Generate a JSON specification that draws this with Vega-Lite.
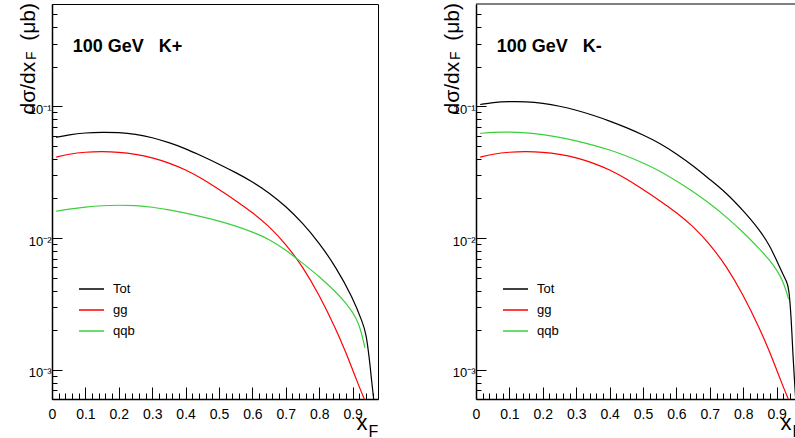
{
  "$schema": "https://vega.github.io/schema/vega-lite/v6.json",
  "padding": {"left": 16, "top": 2, "right": 0, "bottom": 0},
  "autosize": {"type": "pad"},
  "bounds": "flush",
  "spacing": 98,
  "config": {
    "font": "Liberation Sans",
    "view": {"stroke": "black", "strokeWidth": 1},
    "axis": {"grid": false, "labelColor": "black", "titleColor": "black", "tickColor": "black", "domainColor": "black", "titleFontWeight": "normal", "labelFont": "Liberation Sans", "titleFont": "Liberation Sans"}
  },
  "resolve": {"legend": {"color": "independent"}},
  "data": {"values": [
    {"panel": "K+", "series": "Tot", "xF": 0.0125, "dsigma": 0.0582},
    {"panel": "K+", "series": "Tot", "xF": 0.05, "dsigma": 0.0610},
    {"panel": "K+", "series": "Tot", "xF": 0.1, "dsigma": 0.0631},
    {"panel": "K+", "series": "Tot", "xF": 0.15, "dsigma": 0.0638},
    {"panel": "K+", "series": "Tot", "xF": 0.2, "dsigma": 0.0634},
    {"panel": "K+", "series": "Tot", "xF": 0.25, "dsigma": 0.0617},
    {"panel": "K+", "series": "Tot", "xF": 0.3, "dsigma": 0.0582},
    {"panel": "K+", "series": "Tot", "xF": 0.35, "dsigma": 0.0532},
    {"panel": "K+", "series": "Tot", "xF": 0.4, "dsigma": 0.0479},
    {"panel": "K+", "series": "Tot", "xF": 0.45, "dsigma": 0.0419},
    {"panel": "K+", "series": "Tot", "xF": 0.5, "dsigma": 0.0365},
    {"panel": "K+", "series": "Tot", "xF": 0.55, "dsigma": 0.0315},
    {"panel": "K+", "series": "Tot", "xF": 0.6, "dsigma": 0.0268},
    {"panel": "K+", "series": "Tot", "xF": 0.65, "dsigma": 0.0221},
    {"panel": "K+", "series": "Tot", "xF": 0.7, "dsigma": 0.01746},
    {"panel": "K+", "series": "Tot", "xF": 0.75, "dsigma": 0.01306},
    {"panel": "K+", "series": "Tot", "xF": 0.8, "dsigma": 0.0092},
    {"panel": "K+", "series": "Tot", "xF": 0.85, "dsigma": 0.00603},
    {"panel": "K+", "series": "Tot", "xF": 0.9, "dsigma": 0.00355},
    {"panel": "K+", "series": "Tot", "xF": 0.93, "dsigma": 0.00228},
    {"panel": "K+", "series": "Tot", "xF": 0.94, "dsigma": 0.00191},
    {"panel": "K+", "series": "Tot", "xF": 0.95, "dsigma": 0.00123},
    {"panel": "K+", "series": "Tot", "xF": 0.957, "dsigma": 0.00082},
    {"panel": "K+", "series": "Tot", "xF": 0.963, "dsigma": 0.0006},
    {"panel": "K+", "series": "gg", "xF": 0.0125, "dsigma": 0.0412},
    {"panel": "K+", "series": "gg", "xF": 0.05, "dsigma": 0.0435},
    {"panel": "K+", "series": "gg", "xF": 0.1, "dsigma": 0.0451},
    {"panel": "K+", "series": "gg", "xF": 0.15, "dsigma": 0.0455},
    {"panel": "K+", "series": "gg", "xF": 0.2, "dsigma": 0.0450},
    {"panel": "K+", "series": "gg", "xF": 0.25, "dsigma": 0.0435},
    {"panel": "K+", "series": "gg", "xF": 0.3, "dsigma": 0.0409},
    {"panel": "K+", "series": "gg", "xF": 0.35, "dsigma": 0.0373},
    {"panel": "K+", "series": "gg", "xF": 0.4, "dsigma": 0.0331},
    {"panel": "K+", "series": "gg", "xF": 0.45, "dsigma": 0.0282},
    {"panel": "K+", "series": "gg", "xF": 0.5, "dsigma": 0.0234},
    {"panel": "K+", "series": "gg", "xF": 0.55, "dsigma": 0.0193},
    {"panel": "K+", "series": "gg", "xF": 0.6, "dsigma": 0.01567},
    {"panel": "K+", "series": "gg", "xF": 0.65, "dsigma": 0.0123},
    {"panel": "K+", "series": "gg", "xF": 0.7, "dsigma": 0.00902},
    {"panel": "K+", "series": "gg", "xF": 0.75, "dsigma": 0.0061},
    {"panel": "K+", "series": "gg", "xF": 0.8, "dsigma": 0.00372},
    {"panel": "K+", "series": "gg", "xF": 0.85, "dsigma": 0.00204},
    {"panel": "K+", "series": "gg", "xF": 0.88, "dsigma": 0.00135},
    {"panel": "K+", "series": "gg", "xF": 0.9, "dsigma": 0.001},
    {"panel": "K+", "series": "gg", "xF": 0.92, "dsigma": 0.00074},
    {"panel": "K+", "series": "gg", "xF": 0.935, "dsigma": 0.0006},
    {"panel": "K+", "series": "qqb", "xF": 0.0125, "dsigma": 0.01603},
    {"panel": "K+", "series": "qqb", "xF": 0.05, "dsigma": 0.0166},
    {"panel": "K+", "series": "qqb", "xF": 0.1, "dsigma": 0.01722},
    {"panel": "K+", "series": "qqb", "xF": 0.15, "dsigma": 0.01766},
    {"panel": "K+", "series": "qqb", "xF": 0.2, "dsigma": 0.01782},
    {"panel": "K+", "series": "qqb", "xF": 0.25, "dsigma": 0.0177},
    {"panel": "K+", "series": "qqb", "xF": 0.3, "dsigma": 0.01722},
    {"panel": "K+", "series": "qqb", "xF": 0.35, "dsigma": 0.01644},
    {"panel": "K+", "series": "qqb", "xF": 0.4, "dsigma": 0.01549},
    {"panel": "K+", "series": "qqb", "xF": 0.45, "dsigma": 0.01452},
    {"panel": "K+", "series": "qqb", "xF": 0.5, "dsigma": 0.01349},
    {"panel": "K+", "series": "qqb", "xF": 0.55, "dsigma": 0.01236},
    {"panel": "K+", "series": "qqb", "xF": 0.6, "dsigma": 0.01114},
    {"panel": "K+", "series": "qqb", "xF": 0.65, "dsigma": 0.00984},
    {"panel": "K+", "series": "qqb", "xF": 0.7, "dsigma": 0.00813},
    {"panel": "K+", "series": "qqb", "xF": 0.75, "dsigma": 0.00646},
    {"panel": "K+", "series": "qqb", "xF": 0.8, "dsigma": 0.00513},
    {"panel": "K+", "series": "qqb", "xF": 0.85, "dsigma": 0.00389},
    {"panel": "K+", "series": "qqb", "xF": 0.875, "dsigma": 0.00333},
    {"panel": "K+", "series": "qqb", "xF": 0.9, "dsigma": 0.00275},
    {"panel": "K+", "series": "qqb", "xF": 0.92, "dsigma": 0.00224},
    {"panel": "K+", "series": "qqb", "xF": 0.937, "dsigma": 0.00147},
    {"panel": "K-", "series": "Tot", "xF": 0.0125, "dsigma": 0.1035},
    {"panel": "K-", "series": "Tot", "xF": 0.05, "dsigma": 0.1072},
    {"panel": "K-", "series": "Tot", "xF": 0.1, "dsigma": 0.1091},
    {"panel": "K-", "series": "Tot", "xF": 0.15, "dsigma": 0.1089},
    {"panel": "K-", "series": "Tot", "xF": 0.2, "dsigma": 0.1059},
    {"panel": "K-", "series": "Tot", "xF": 0.25, "dsigma": 0.1007},
    {"panel": "K-", "series": "Tot", "xF": 0.3, "dsigma": 0.0938},
    {"panel": "K-", "series": "Tot", "xF": 0.35, "dsigma": 0.0859},
    {"panel": "K-", "series": "Tot", "xF": 0.4, "dsigma": 0.0776},
    {"panel": "K-", "series": "Tot", "xF": 0.45, "dsigma": 0.0692},
    {"panel": "K-", "series": "Tot", "xF": 0.5, "dsigma": 0.0608},
    {"panel": "K-", "series": "Tot", "xF": 0.55, "dsigma": 0.0527},
    {"panel": "K-", "series": "Tot", "xF": 0.6, "dsigma": 0.0437},
    {"panel": "K-", "series": "Tot", "xF": 0.65, "dsigma": 0.0355},
    {"panel": "K-", "series": "Tot", "xF": 0.7, "dsigma": 0.0279},
    {"panel": "K-", "series": "Tot", "xF": 0.75, "dsigma": 0.0220},
    {"panel": "K-", "series": "Tot", "xF": 0.8, "dsigma": 0.0162},
    {"panel": "K-", "series": "Tot", "xF": 0.85, "dsigma": 0.01148},
    {"panel": "K-", "series": "Tot", "xF": 0.88, "dsigma": 0.00871},
    {"panel": "K-", "series": "Tot", "xF": 0.9, "dsigma": 0.00676},
    {"panel": "K-", "series": "Tot", "xF": 0.92, "dsigma": 0.00525},
    {"panel": "K-", "series": "Tot", "xF": 0.93, "dsigma": 0.00468},
    {"panel": "K-", "series": "Tot", "xF": 0.937, "dsigma": 0.00417},
    {"panel": "K-", "series": "Tot", "xF": 0.944, "dsigma": 0.0024},
    {"panel": "K-", "series": "Tot", "xF": 0.949, "dsigma": 0.00126},
    {"panel": "K-", "series": "Tot", "xF": 0.954, "dsigma": 0.00079},
    {"panel": "K-", "series": "Tot", "xF": 0.957, "dsigma": 0.0006},
    {"panel": "K-", "series": "gg", "xF": 0.0125, "dsigma": 0.0412},
    {"panel": "K-", "series": "gg", "xF": 0.05, "dsigma": 0.0435},
    {"panel": "K-", "series": "gg", "xF": 0.1, "dsigma": 0.0451},
    {"panel": "K-", "series": "gg", "xF": 0.15, "dsigma": 0.0455},
    {"panel": "K-", "series": "gg", "xF": 0.2, "dsigma": 0.0450},
    {"panel": "K-", "series": "gg", "xF": 0.25, "dsigma": 0.0435},
    {"panel": "K-", "series": "gg", "xF": 0.3, "dsigma": 0.0409},
    {"panel": "K-", "series": "gg", "xF": 0.35, "dsigma": 0.0373},
    {"panel": "K-", "series": "gg", "xF": 0.4, "dsigma": 0.0331},
    {"panel": "K-", "series": "gg", "xF": 0.45, "dsigma": 0.0282},
    {"panel": "K-", "series": "gg", "xF": 0.5, "dsigma": 0.0234},
    {"panel": "K-", "series": "gg", "xF": 0.55, "dsigma": 0.0193},
    {"panel": "K-", "series": "gg", "xF": 0.6, "dsigma": 0.01567},
    {"panel": "K-", "series": "gg", "xF": 0.65, "dsigma": 0.0123},
    {"panel": "K-", "series": "gg", "xF": 0.7, "dsigma": 0.00902},
    {"panel": "K-", "series": "gg", "xF": 0.75, "dsigma": 0.0061},
    {"panel": "K-", "series": "gg", "xF": 0.8, "dsigma": 0.00372},
    {"panel": "K-", "series": "gg", "xF": 0.85, "dsigma": 0.00204},
    {"panel": "K-", "series": "gg", "xF": 0.88, "dsigma": 0.00135},
    {"panel": "K-", "series": "gg", "xF": 0.9, "dsigma": 0.001},
    {"panel": "K-", "series": "gg", "xF": 0.92, "dsigma": 0.00074},
    {"panel": "K-", "series": "gg", "xF": 0.935, "dsigma": 0.0006},
    {"panel": "K-", "series": "qqb", "xF": 0.0125, "dsigma": 0.0624},
    {"panel": "K-", "series": "qqb", "xF": 0.05, "dsigma": 0.0637},
    {"panel": "K-", "series": "qqb", "xF": 0.1, "dsigma": 0.0640},
    {"panel": "K-", "series": "qqb", "xF": 0.15, "dsigma": 0.0631},
    {"panel": "K-", "series": "qqb", "xF": 0.2, "dsigma": 0.0612},
    {"panel": "K-", "series": "qqb", "xF": 0.25, "dsigma": 0.0583},
    {"panel": "K-", "series": "qqb", "xF": 0.3, "dsigma": 0.0550},
    {"panel": "K-", "series": "qqb", "xF": 0.35, "dsigma": 0.0510},
    {"panel": "K-", "series": "qqb", "xF": 0.4, "dsigma": 0.0468},
    {"panel": "K-", "series": "qqb", "xF": 0.45, "dsigma": 0.0422},
    {"panel": "K-", "series": "qqb", "xF": 0.5, "dsigma": 0.0373},
    {"panel": "K-", "series": "qqb", "xF": 0.55, "dsigma": 0.0324},
    {"panel": "K-", "series": "qqb", "xF": 0.6, "dsigma": 0.0272},
    {"panel": "K-", "series": "qqb", "xF": 0.65, "dsigma": 0.0226},
    {"panel": "K-", "series": "qqb", "xF": 0.7, "dsigma": 0.0183},
    {"panel": "K-", "series": "qqb", "xF": 0.75, "dsigma": 0.01445},
    {"panel": "K-", "series": "qqb", "xF": 0.8, "dsigma": 0.0111},
    {"panel": "K-", "series": "qqb", "xF": 0.85, "dsigma": 0.00822},
    {"panel": "K-", "series": "qqb", "xF": 0.88, "dsigma": 0.00676},
    {"panel": "K-", "series": "qqb", "xF": 0.9, "dsigma": 0.00575},
    {"panel": "K-", "series": "qqb", "xF": 0.92, "dsigma": 0.00468},
    {"panel": "K-", "series": "qqb", "xF": 0.936, "dsigma": 0.00343}
  ]},
  "hconcat": [
    {
      "width": 326,
      "height": 395,
      "resolve": {"axis": {"x": "independent", "y": "independent"}},
      "layer": [
        {
          "transform": [{"filter": "datum.panel == 'K+'"}],
          "mark": {"type": "line", "interpolate": "basis", "strokeWidth": 1.2, "clip": true},
          "encoding": {
            "x": {"field": "xF", "type": "quantitative",
              "scale": {"domain": [0, 0.976], "nice": false, "zero": false},
              "axis": {"orient": "bottom", "values": [0, 0.1, 0.2, 0.3, 0.4, 0.5, 0.6, 0.7, 0.8, 0.9],
                "tickSize": -12, "tickWidth": 1, "domainWidth": 1.5, "labelFontSize": 14, "labelPadding": 20,
                "labelBaseline": "top", "labelFlush": false, "labelOverlap": false,
                "labelExpr": "datum.value == 0 ? '0' : format(datum.value, '.1f')",
                "title": "x", "titleFontSize": 22, "titleX": 304, "titleY": 30.5, "titleAlign": "left", "titleBaseline": "alphabetic", "titleAngle": 0}},
            "y": {"field": "dsigma", "type": "quantitative",
              "scale": {"type": "log", "domain": [0.0006, 0.6], "nice": false},
              "axis": {"orient": "left", "values": [0.001, 0.01, 0.1],
                "tickSize": -10, "tickWidth": 1, "domainWidth": 1.5, "labelFontSize": 13, "labelPadding": 11,
                "labelBaseline": "middle", "labelAlign": "right", "labelOffset": 3, "labelFlush": false, "labelOverlap": false,
                "labelExpr": "'10' + (datum.value < 0.005 ? '⁻³' : (datum.value < 0.05 ? '⁻²' : '⁻¹'))",
                "title": "dσ/dx\u2002\u2002(μb)", "titleFontSize": 21, "titleX": -18, "titleY": 110, "titleAlign": "left", "titleBaseline": "alphabetic", "titleAngle": 270}},
            "color": {"field": "series", "type": "nominal",
              "scale": {"domain": ["Tot", "gg", "qqb"], "range": ["#000000", "#ff0000", "#3ccf3c"]},
              "legend": {"orient": "none", "legendX": 26, "legendY": 271.5, "title": null, "symbolType": "stroke", "symbolSize": 625, "symbolStrokeWidth": 1.5,
                "labelFontSize": 13, "labelFont": "Liberation Sans", "labelColor": "black", "labelOffset": 8, "rowPadding": 0, "padding": 0,
                "labelExpr": "datum.label == 'gg' ? '\u00a0gg' : datum.label"}}
          }
        },
        {
          "data": {"values": [{"label": "100 GeV\u00a0\u00a0\u00a0K+"}]},
          "mark": {"type": "text", "font": "Liberation Sans", "fontSize": 18, "fontWeight": "bold", "align": "left", "baseline": "middle", "color": "black"},
          "encoding": {
            "x": {"datum": 0.062, "type": "quantitative",
              "scale": {"domain": [0, 0.976], "nice": false, "zero": false},
              "axis": {"orient": "bottom", "values": [0.02, 0.04, 0.06, 0.08, 0.12, 0.14, 0.16, 0.18, 0.22, 0.24, 0.26, 0.28, 0.32, 0.34, 0.36, 0.38, 0.42, 0.44, 0.46, 0.48, 0.52, 0.54, 0.56, 0.58, 0.62, 0.64, 0.66, 0.68, 0.72, 0.74, 0.76, 0.78, 0.82, 0.84, 0.86, 0.88, 0.92, 0.94, 0.96],
                "tickSize": -6, "tickWidth": 1, "labels": false, "domain": false,
                "title": "F", "titleFontSize": 16, "titleX": 316, "titleY": 37, "titleAlign": "left", "titleBaseline": "alphabetic", "titleAngle": 0}},
            "y": {"datum": 0.2835, "type": "quantitative",
              "scale": {"type": "log", "domain": [0.0006, 0.6], "nice": false},
              "axis": {"orient": "left", "values": [0.0007, 0.0008, 0.0009, 0.002, 0.003, 0.004, 0.005, 0.006, 0.007, 0.008, 0.009, 0.02, 0.03, 0.04, 0.05, 0.06, 0.07, 0.08, 0.09, 0.2, 0.3, 0.4, 0.5],
                "tickSize": -5, "tickWidth": 1, "labels": false, "domain": false,
                "title": "F", "titleFontSize": 14, "titleX": -17, "titleY": 55.5, "titleAlign": "left", "titleBaseline": "alphabetic", "titleAngle": 270}},
            "text": {"field": "label"}
          }
        }
      ]
    },
    {
      "width": 320,
      "height": 395,
      "view": {"stroke": null},
      "resolve": {"axis": {"x": "independent", "y": "independent"}},
      "layer": [
        {
          "transform": [{"filter": "datum.panel == 'K-'"}],
          "mark": {"type": "line", "interpolate": "basis", "strokeWidth": 1.2, "clip": true},
          "encoding": {
            "x": {"field": "xF", "type": "quantitative",
              "scale": {"domain": [0, 0.958], "nice": false, "zero": false},
              "axis": {"orient": "bottom", "values": [0, 0.1, 0.2, 0.3, 0.4, 0.5, 0.6, 0.7, 0.8, 0.9],
                "tickSize": -12, "tickWidth": 1, "domainWidth": 1.5, "labelFontSize": 14, "labelPadding": 20,
                "labelBaseline": "top", "labelFlush": false, "labelOverlap": false,
                "labelExpr": "datum.value == 0 ? '0' : format(datum.value, '.1f')",
                "title": "x", "titleFontSize": 22, "titleX": 304, "titleY": 30.5, "titleAlign": "left", "titleBaseline": "alphabetic", "titleAngle": 0}},
            "y": {"field": "dsigma", "type": "quantitative",
              "scale": {"type": "log", "domain": [0.0006, 0.6], "nice": false},
              "axis": {"orient": "left", "values": [0.001, 0.01, 0.1],
                "tickSize": -10, "tickWidth": 1, "domainWidth": 1.5, "labelFontSize": 13, "labelPadding": 11,
                "labelBaseline": "middle", "labelAlign": "right", "labelOffset": 3, "labelFlush": false, "labelOverlap": false,
                "labelExpr": "'10' + (datum.value < 0.005 ? '⁻³' : (datum.value < 0.05 ? '⁻²' : '⁻¹'))",
                "title": "dσ/dx\u2002\u2002(μb)", "titleFontSize": 21, "titleX": -18, "titleY": 110, "titleAlign": "left", "titleBaseline": "alphabetic", "titleAngle": 270}},
            "color": {"field": "series", "type": "nominal",
              "scale": {"domain": ["Tot", "gg", "qqb"], "range": ["#000000", "#ff0000", "#3ccf3c"]},
              "legend": {"orient": "none", "legendX": 26, "legendY": 271.5, "title": null, "symbolType": "stroke", "symbolSize": 625, "symbolStrokeWidth": 1.5,
                "labelFontSize": 13, "labelFont": "Liberation Sans", "labelColor": "black", "labelOffset": 8, "rowPadding": 0, "padding": 0,
                "labelExpr": "datum.label == 'gg' ? '\u00a0gg' : datum.label"}}
          }
        },
        {
          "data": {"values": [{"label": "100 GeV\u00a0\u00a0\u00a0K-"}]},
          "mark": {"type": "text", "font": "Liberation Sans", "fontSize": 18, "fontWeight": "bold", "align": "left", "baseline": "middle", "color": "black"},
          "encoding": {
            "x": {"datum": 0.062, "type": "quantitative",
              "scale": {"domain": [0, 0.958], "nice": false, "zero": false},
              "axis": {"orient": "bottom", "values": [0.02, 0.04, 0.06, 0.08, 0.12, 0.14, 0.16, 0.18, 0.22, 0.24, 0.26, 0.28, 0.32, 0.34, 0.36, 0.38, 0.42, 0.44, 0.46, 0.48, 0.52, 0.54, 0.56, 0.58, 0.62, 0.64, 0.66, 0.68, 0.72, 0.74, 0.76, 0.78, 0.82, 0.84, 0.86, 0.88, 0.92, 0.94],
                "tickSize": -6, "tickWidth": 1, "labels": false, "domain": false,
                "title": "F", "titleFontSize": 16, "titleX": 316, "titleY": 37, "titleAlign": "left", "titleBaseline": "alphabetic", "titleAngle": 0}},
            "y": {"datum": 0.2835, "type": "quantitative",
              "scale": {"type": "log", "domain": [0.0006, 0.6], "nice": false},
              "axis": {"orient": "left", "values": [0.0007, 0.0008, 0.0009, 0.002, 0.003, 0.004, 0.005, 0.006, 0.007, 0.008, 0.009, 0.02, 0.03, 0.04, 0.05, 0.06, 0.07, 0.08, 0.09, 0.2, 0.3, 0.4, 0.5],
                "tickSize": -5, "tickWidth": 1, "labels": false, "domain": false,
                "title": "F", "titleFontSize": 14, "titleX": -17, "titleY": 55.5, "titleAlign": "left", "titleBaseline": "alphabetic", "titleAngle": 270}},
            "text": {"field": "label"}
          }
        },
        {
          "data": {"values": [{"edge": "top"}]},
          "mark": {"type": "rule", "color": "black", "strokeWidth": 1},
          "encoding": {
            "y": {"datum": 0.6, "type": "quantitative",
              "scale": {"type": "log", "domain": [0.0006, 0.6], "nice": false},
              "axis": null}
          }
        }
      ]
    }
  ]
}
